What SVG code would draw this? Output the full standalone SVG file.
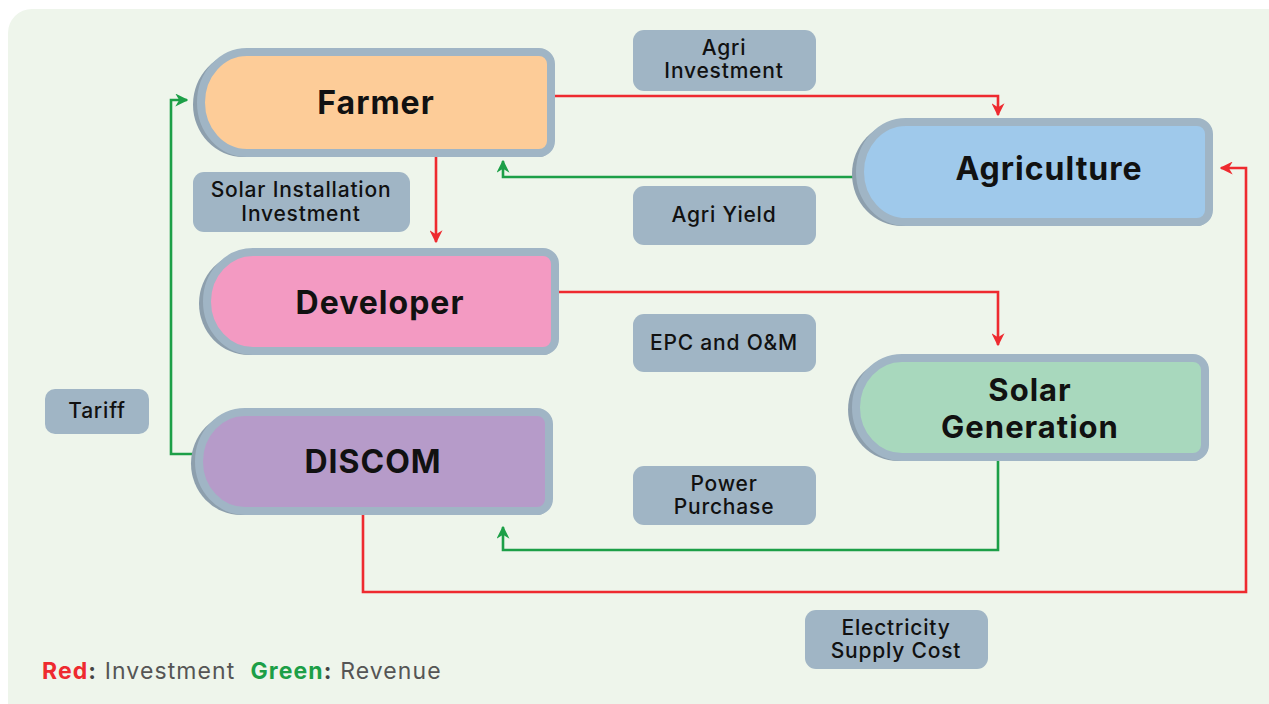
<svg xmlns="http://www.w3.org/2000/svg" width="1269" height="704" viewBox="0 0 1269 704">
  <style>
    .title { font-family: Inter, "Open Sans", "Liberation Sans", sans-serif; font-weight: 700; font-size: 32px; letter-spacing: 1px; fill: #111; text-anchor: middle; }
    .title2 { font-size: 31px; }
    .lbl-box { fill: #a0b5c5; }
    .lbl { font-family: Inter, "Open Sans", "Liberation Sans", sans-serif; font-weight: 500; font-size: 21px; letter-spacing: 0.8px; fill: #111; text-anchor: middle; }
    .shadow { fill: #8d9fad; }
    .rim { stroke: #a0b5c5; stroke-width: 8; }
    .red { fill: none; stroke: #ee2a2f; stroke-width: 2.6; marker-end: url(#ah-red); }
    .green { fill: none; stroke: #1c9f47; stroke-width: 2.6; marker-end: url(#ah-green); }
    .legend { font-family: Inter, "Open Sans", "Liberation Sans", sans-serif; font-size: 23px; letter-spacing: 1.1px; fill: #555; }
  </style>
  <defs>
    <marker id="ah-red" viewBox="0 0 10 10" refX="9" refY="5" markerWidth="5" markerHeight="5" orient="auto" markerUnits="strokeWidth">
      <path d="M0,0 L10,5 L0,10 L3,5 Z" fill="#ee2a2f"/>
    </marker>
    <marker id="ah-green" viewBox="0 0 10 10" refX="9" refY="5" markerWidth="5" markerHeight="5" orient="auto" markerUnits="strokeWidth">
      <path d="M0,0 L10,5 L0,10 L3,5 Z" fill="#1c9f47"/>
    </marker>
  </defs>

  <!-- backdrop -->
  <rect x="8" y="9" width="1290" height="720" rx="24" fill="#eef5eb"/>

  <!-- connectors -->
  <g id="connectors">
    <path class="red" d="M555,96 H998 V115"/>
    <path class="green" d="M856,177 H503 V161"/>
    <path class="red" d="M436,157 V242"/>
    <path class="red" d="M559,292 H998 V345"/>
    <path class="green" d="M998,461 V550 H503 V527"/>
    <path class="red" d="M363,515 V592 H1246 V168 H1221"/>
    <path class="green" d="M195,454 H171 V100 H187"/>
  </g>

  <!-- nodes -->
  <g id="farmer">
    <path class="shadow" d="M243,52 H539 A12 12 0 0 1 551,64 V145 A12 12 0 0 1 539,157 H243 A50 52.5 0 0 1 243,52 Z"/>
    <path class="rim" fill="#fdcc98" d="M247,52 H539 A12 12 0 0 1 551,64 V141 A12 12 0 0 1 539,153 H247 A46 50.5 0 0 1 247,52 Z"/>
    <text class="title" x="376" y="114">Farmer</text>
  </g>

  <g id="agriculture">
    <path class="shadow" d="M902,122 H1197 A12 12 0 0 1 1209,134 V214 A12 12 0 0 1 1197,226 H902 A50 52 0 0 1 902,122 Z"/>
    <path class="rim" fill="#9fc9eb" d="M906,122 H1197 A12 12 0 0 1 1209,134 V210 A12 12 0 0 1 1197,222 H906 A46 50 0 0 1 906,122 Z"/>
    <text class="title" x="1049" y="180">Agriculture</text>
  </g>

  <g id="developer">
    <path class="shadow" d="M249,252 H543 A12 12 0 0 1 555,264 V343 A12 12 0 0 1 543,355 H249 A50 51.5 0 0 1 249,252 Z"/>
    <path class="rim" fill="#f39ac2" d="M253,252 H543 A12 12 0 0 1 555,264 V339 A12 12 0 0 1 543,351 H253 A46 49.5 0 0 1 253,252 Z"/>
    <text class="title" x="380" y="314">Developer</text>
  </g>

  <g id="discom">
    <path class="shadow" d="M241,412 H537 A12 12 0 0 1 549,424 V503 A12 12 0 0 1 537,515 H241 A50 51.5 0 0 1 241,412 Z"/>
    <path class="rim" fill="#b69bc9" d="M245,412 H537 A12 12 0 0 1 549,424 V499 A12 12 0 0 1 537,511 H245 A46 49.5 0 0 1 245,412 Z"/>
    <text class="title" x="373" y="473">DISCOM</text>
  </g>

  <g id="solar-generation">
    <path class="shadow" d="M898,358 H1193 A12 12 0 0 1 1205,370 V449 A12 12 0 0 1 1193,461 H898 A50 51.5 0 0 1 898,358 Z"/>
    <path class="rim" fill="#a8d8bd" d="M902,358 H1193 A12 12 0 0 1 1205,370 V445 A12 12 0 0 1 1193,457 H902 A46 49.5 0 0 1 902,358 Z"/>
    <text class="title title2" x="1030" y="401">Solar</text>
    <text class="title title2" x="1030" y="438">Generation</text>
  </g>

  <!-- flow labels -->
  <g id="label-agri-investment">
    <rect class="lbl-box" x="633" y="30" width="183" height="61" rx="11"/>
    <text class="lbl" x="724" y="55">Agri</text>
    <text class="lbl" x="724" y="78">Investment</text>
  </g>
  <g id="label-agri-yield">
    <rect class="lbl-box" x="633" y="186" width="183" height="59" rx="11"/>
    <text class="lbl" x="724" y="222">Agri Yield</text>
  </g>
  <g id="label-solar-installation">
    <rect class="lbl-box" x="193" y="172" width="217" height="60" rx="11"/>
    <text class="lbl" x="301" y="197">Solar Installation</text>
    <text class="lbl" x="301" y="221">Investment</text>
  </g>
  <g id="label-epc">
    <rect class="lbl-box" x="633" y="314" width="183" height="58" rx="11"/>
    <text class="lbl" x="724" y="350">EPC and O&amp;M</text>
  </g>
  <g id="label-tariff">
    <rect class="lbl-box" x="45" y="389" width="104" height="45" rx="10"/>
    <text class="lbl" x="97" y="418">Tariff</text>
  </g>
  <g id="label-power-purchase">
    <rect class="lbl-box" x="633" y="466" width="183" height="59" rx="11"/>
    <text class="lbl" x="724" y="491">Power</text>
    <text class="lbl" x="724" y="514">Purchase</text>
  </g>
  <g id="label-electricity-supply">
    <rect class="lbl-box" x="805" y="610" width="183" height="59" rx="11"/>
    <text class="lbl" x="896" y="635">Electricity</text>
    <text class="lbl" x="896" y="658">Supply Cost</text>
  </g>

  <!-- legend -->
  <text class="legend" x="42" y="679" xml:space="preserve"><tspan font-weight="700" fill="#ee2a2f">Red</tspan><tspan font-weight="700" fill="#444">:</tspan> Investment  <tspan font-weight="700" fill="#1c9f47">Green</tspan><tspan font-weight="700" fill="#444">:</tspan> Revenue</text>
</svg>
